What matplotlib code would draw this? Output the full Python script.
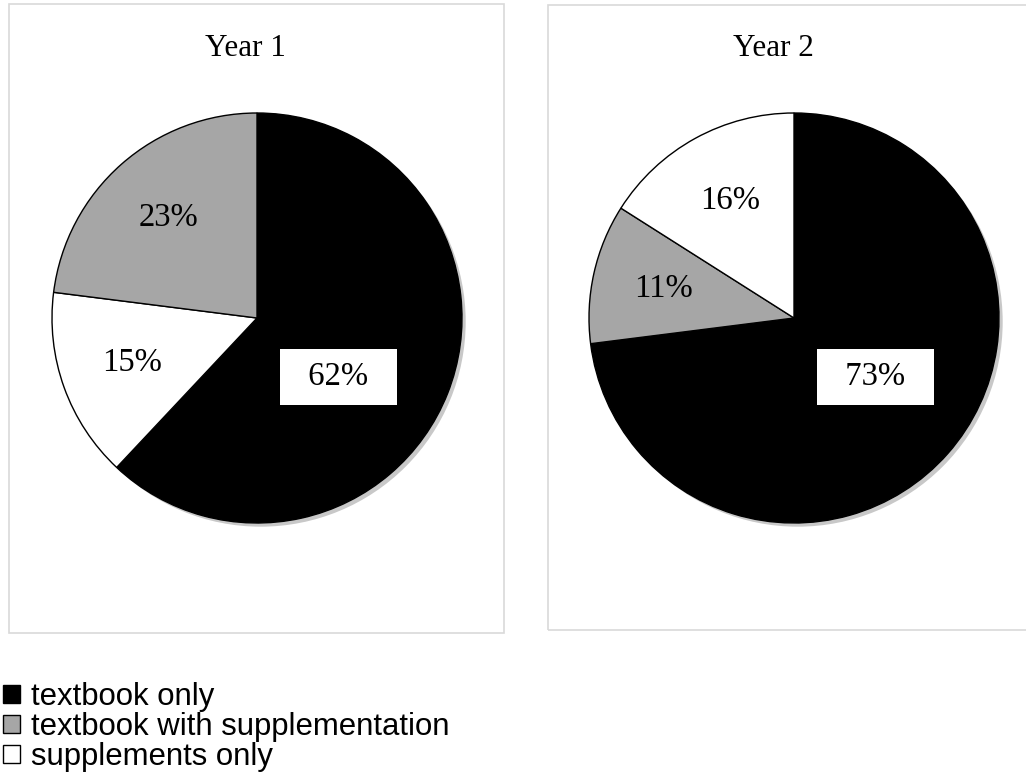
import matplotlib.pyplot as plt
from matplotlib.patches import Rectangle, Circle
import numpy as np

# survey shares, in percent
categories = ['textbook only', 'textbook with supplementation', 'supplements only']
year1 = [62, 23, 15]
year2 = [73, 11, 16]
titles = ['Year 1', 'Year 2']
colors = ['#000000', '#a6a6a6', '#ffffff']

W, H = 1026, 773
fig = plt.figure(figsize=(W / 100, H / 100), dpi=100)
fig.patch.set_facecolor('white')

serif = 'Liberation Serif'

# light frames around each chart area (pixel boxes: x0, y0, x1, y1)
frames = [(9, 4, 504, 633), (548, 5, 1030, 630)]
for x0, y0, x1, y1 in frames:
    fig.patches.append(Rectangle((x0 / W, 1 - y1 / H), (x1 - x0) / W, (y1 - y0) / H,
                                 transform=fig.transFigure, fill=False,
                                 edgecolor='#d9d9d9', linewidth=1.2))

# pie centres and radius in pixels
centres = [(257, 318), (794, 318)]
R = 205
title_x = [245, 773]

for data, title, (cx, cy), tx in zip([year1, year2], titles, centres, title_x):
    s = 2.2 * R
    ax = fig.add_axes([(cx - s / 2) / W, 1 - (cy + s / 2) / H, s / W, s / H])

    # soft drop shadow toward the lower right
    ax.add_patch(Circle((0.018, -0.018), 1.0, facecolor='#c8c8c8', edgecolor='none', zorder=0))

    # slices clockwise from 12 o'clock
    order = [0, 2, 1] if title == 'Year 1' else [0, 1, 2]
    vals = [data[i] for i in order]
    cols = [colors[i] for i in order]
    wedges, _ = ax.pie(vals, colors=cols, startangle=90, counterclock=False,
                       wedgeprops=dict(edgecolor='black', linewidth=1.0),
                       radius=1.0, center=(0, 0), frame=True)
    ax.set_xlim(-1.1, 1.1)
    ax.set_ylim(-1.1, 1.1)
    ax.set_aspect('equal')
    ax.axis('off')
    for w in wedges:
        w.set_zorder(2)

    for w, v, idx in zip(wedges, vals, order):
        if idx == 0:
            # big slice: boxed label in the lower right
            a = np.deg2rad(-36)
            x, y = 0.49 * np.cos(a), 0.49 * np.sin(a)
            ax.text(x, y, f'  {v}%  ', ha='center', va='center', fontsize=23.5, family=serif,
                    zorder=4, bbox=dict(boxstyle='square,pad=0.38', facecolor='white',
                                        edgecolor='none'))
        else:
            mid = np.deg2rad((w.theta1 + w.theta2) / 2)
            x, y = 0.65 * np.cos(mid), 0.65 * np.sin(mid)
            ax.text(x, y, f'{v}%', ha='center', va='center', fontsize=23.5, family=serif,
                    zorder=4)

    fig.text(tx / W, 1 - 48 / H, title, ha='center', va='center', fontsize=22.4, family=serif)

    if title == 'Year 1':
        handles = [wedges[0], wedges[2], wedges[1]]

fig.legend(handles, categories, loc='upper left', bbox_to_anchor=(3 / W, 1 - 682 / H),
           frameon=False, prop={'family': 'Liberation Sans', 'size': 22.4},
           handlelength=0.56, handleheight=0.56, handletextpad=0.33,
           labelspacing=0.0, borderpad=0, borderaxespad=0)

fig.savefig('out.png', dpi=100, facecolor='white')
